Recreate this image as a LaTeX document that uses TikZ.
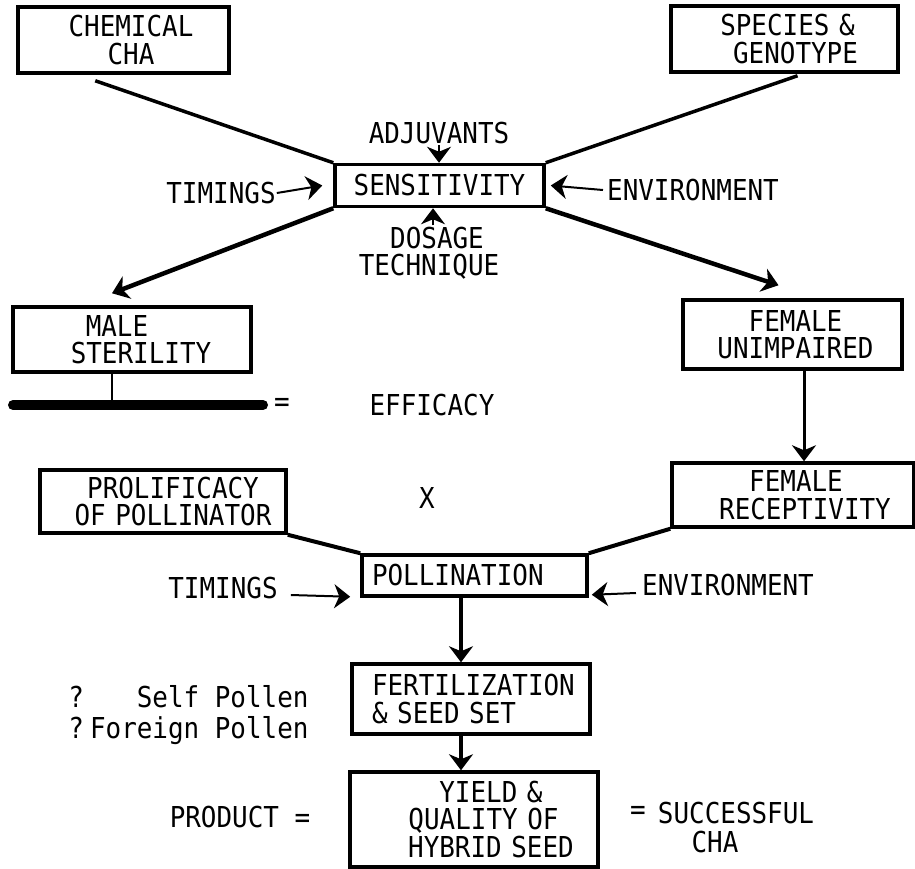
\documentclass[tikz,border=0pt]{standalone}
\usepackage{fontspec}
\newfontfamily\dmono[FakeStretch=0.9]{DejaVu Sans Mono}
\newcommand\myfnt{\dmono\fontsize{28.8}{27.5}\selectfont}
\usetikzlibrary{arrows.meta,calc}
\begin{document}
\begin{tikzpicture}[x=1pt,y=-1pt,
  box/.style={draw, line width=3.5pt, font=\myfnt, inner xsep=0pt, inner ysep=2pt, align=center},
  txt/.style={font=\myfnt, inner sep=1pt, align=center},
  headtip/.style={-{Stealth[length=16pt,width=24pt,inset=5pt]}},
  conn/.style={line width=3.5pt},
  thin arrow/.style={headtip, line width=2pt},
  thick arrow/.style={headtip, line width=4.5pt}]
\useasboundingbox[fill=white] (0,0) rectangle (915,868);

% boxes
\node[box, text width=211pt, minimum height=66pt] (chem) at (123.5,40) {\hspace*{15pt}CHEMICAL\\\hspace*{15pt}CHA};
\node[box, text width=227pt, minimum height=66pt] (spec) at (784.5,39) {\hspace*{6pt}SPECIES \&\\\hspace*{22pt}GENOTYPE};
\node[box, text width=209pt, minimum height=42pt] (sens) at (439.5,185.5) {SENSITIVITY};
\node[box, text width=238pt, minimum height=65pt] (male) at (132,339.5) {\hspace*{-30pt}MALE\\\hspace*{18pt}STERILITY};
\node[box, text width=219pt, minimum height=69pt] (funimp) at (792.5,334.5) {\hspace*{6pt}FEMALE\\\hspace*{6pt}UNIMPAIRED};
\node[box, text width=242pt, minimum height=64pt] (frec) at (793,495) {\hspace*{6pt}FEMALE\\\hspace*{24pt}RECEPTIVITY};
\node[box, text width=246pt, minimum height=63pt] (prolif) at (163,501.5) {\hspace*{20pt}PROLIFICACY\\\hspace*{20pt}OF POLLINATOR};
\node[box, align=left, inner xsep=10pt, text width=205pt, minimum height=41pt] (poll) at (474.5,575.5) {POLLINATION};
\node[box, align=left, inner xsep=20pt, text width=198pt, minimum height=70pt] (fert) at (471,699) {FERTILIZATION\\\& SEED SET};
\node[box, text width=248pt, minimum height=95pt] (yield) at (474,819.5) {\hspace*{34pt}YIELD \&\\\hspace*{19pt}QUALITY OF\\\hspace*{34pt}HYBRID SEED};

% free texts
\node[txt] (tim1) at (221,193) {TIMINGS};
\node[txt] (env1) at (693,190) {ENVIRONMENT};
\node[txt] (adj) at (439,133) {ADJUVANTS};
\node[txt] (dos) at (429,253) {\hspace*{16pt}DOSAGE\\TECHNIQUE};
\node[txt] (eq1) at (282,405) {=};
\node[txt] (eff) at (432,405) {EFFICACY};
\node[txt] (xx) at (427,498) {X};
\node[txt] (tim2) at (223,588) {TIMINGS};
\node[txt] (env2) at (728,585) {ENVIRONMENT};
\node[txt, inner sep=0pt] (pol) at (188.5,716) {\begin{tabular}{@{}l@{\hspace{6pt}}r@{}}?&Self Pollen\\?&Foreign Pollen\end{tabular}};
\node[txt] (prod) at (240,817) {PRODUCT =};
\node[txt] (eq2) at (638,813) {=};
\node[txt] (succ) at (736,813) {SUCCESSFUL};
\node[txt] (cha) at (715,842) {CHA};

% connectors to sensitivity
\draw[conn] ($(chem.south west)+(79,6)$) -- (sens.north west);
\draw[conn] ($(spec.south)+(13,2)$) -- (sens.north east);
\draw[thick arrow] (sens.south west) -- ($(male.north)+(-20,-12)$);
\draw[thick arrow] (sens.south east) -- ($(funimp.north)+(-14,-13)$);
\draw[thin arrow] (tim1.east) -- ([xshift=-11pt]sens.west);
\draw[thin arrow] ([xshift=-3pt]env1.west) -- ([xshift=5pt]sens.east);
\draw[thin arrow] (adj.south) -- (adj.south |- sens.north);
\coordinate (da) at ([xshift=4pt]dos.north);
\draw[thin arrow] (da) -- (da |- sens.south);

% male sterility bar
\coordinate (ms) at ($(male.south)+(-20,0)$);
\coordinate (barL) at (13,405);
\coordinate (barR) at (263,405);
\draw[line width=2pt] (ms) -- (ms |- barL);
\draw[line width=10pt, line cap=round] (barL) -- (barR);

% female chain
\coordinate (fa) at ($(funimp.south)+(11.5,0)$);
\draw[headtip, line width=3pt] (fa) -- (fa |- frec.north);

% pollination
\draw[line width=4pt] (prolif.south east) -- (poll.north west);
\draw[line width=4pt] (frec.south west) -- (poll.north east);
\draw[thin arrow] ($(tim2.east)+(12,7)$) -- ($(poll.south west)+(-10,-1)$);
\draw[thin arrow] ($(env2.west)+(-5,8)$) -- ($(poll.south east)+(3,-3)$);
\coordinate (pf) at ($(poll.south)+(-13.5,0)$);
\draw[thick arrow] (pf) -- (pf |- fert.north);
\coordinate (fy) at ($(fert.south)+(-10,0)$);
\draw[thick arrow] (fy) -- (fy |- yield.north);
\end{tikzpicture}
\end{document}
